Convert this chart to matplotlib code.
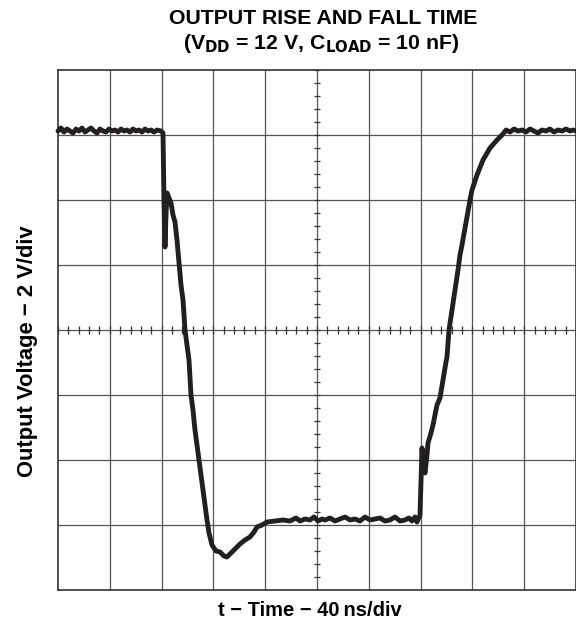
import numpy as np
import matplotlib
matplotlib.use("Agg")
import matplotlib.pyplot as plt

plt.rcParams['font.family'] = ['Liberation Sans', 'DejaVu Sans']

# Trace (pixel readings converted to time in ns, voltage in V)
px_x = [58, 61, 64, 67, 70, 73, 76, 79, 82, 85, 88, 91, 94, 97, 100, 103, 106, 109, 112, 115, 118, 121, 124,
        127, 130, 133, 136, 139, 142, 145, 148, 151, 154, 157, 161,
        163, 164, 165, 166, 167, 169, 171, 173, 175, 177, 179, 181, 183, 185, 187, 189, 191, 193, 195, 197, 199,
        201, 203, 205, 207, 209, 212, 216, 220, 224, 227, 231, 236, 240, 245, 250, 254, 257, 262, 267, 275, 283,
        290, 296, 300, 305, 310, 314, 318, 322, 325, 330, 335, 340, 345, 350, 355, 360, 365, 370, 375, 380, 385,
        390, 395, 400, 405, 409, 412, 415, 417, 420, 421, 422, 423, 425, 427,
        428, 431, 433, 435, 437, 440, 443, 446, 447, 449, 452, 455, 458, 460, 462, 465, 467, 470, 472, 477, 483,
        490, 497, 503, 506, 510, 514, 518, 522, 526, 530, 534, 538, 542, 546, 550, 554, 558, 562, 566, 570, 573, 576]
px_y = [131, 128, 132, 129, 131, 133, 129, 131, 128, 132, 130, 128, 131, 133, 129, 131, 132, 129, 131, 130, 132,
        129, 131, 130, 132, 129, 131, 130, 132, 129, 131, 130, 132, 130, 131,
        133, 200, 247, 215, 193, 198, 203, 215, 222, 240, 262, 285, 300, 330, 345, 360, 395, 410, 430, 445, 460,
        475, 490, 505, 520, 533, 545, 551, 552, 556, 557, 553, 548, 544, 540, 537, 532, 527, 525, 522, 521, 520,
        521, 518, 521, 519, 520, 517, 521, 519, 520, 518, 521, 519, 517, 520, 519, 521, 517, 520, 519, 518, 521,
        520, 517, 521, 520, 518, 521, 517, 522, 515, 480, 448, 460, 473, 455,
        443, 433, 425, 415, 405, 398, 380, 362, 357, 330, 310, 290, 270, 255, 245, 228, 217, 200, 190, 175, 160,
        148, 140, 134, 130, 132, 129, 131, 130, 132, 129, 131, 133, 130, 131, 129, 132, 130, 131, 129, 131, 130, 131]
time_ns = [(x - 58) / 51.8 * 40 for x in px_x]
volts = [(590 - y) / 65 * 2 - 2 for y in px_y]

title1 = "OUTPUT RISE AND FALL TIME"
title2 = "(V$_{\\mathbf{DD}}$ = 12 V, C$_{\\mathbf{LOAD}}$ = 10 nF)"
xlabel = "t \u2212 Time \u2212 40\u2009ns/div"
ylabel = "Output Voltage \u2212 2 V/div"

T0, T1, TDIV = 0, 400, 40
V0, V1, VDIV = -2, 14, 2

fig = plt.figure(figsize=(5.76, 6.29), dpi=100)
ax = fig.add_axes([58 / 576, 39 / 629, 518 / 576, 520 / 629])
ax.set_xlim(T0, T1)
ax.set_ylim(V0, V1)
ax.set_xticks([])
ax.set_yticks([])
grid_c = '#555555'
for s in ax.spines.values():
    s.set_color('#333333')
    s.set_linewidth(1.2)

for t in np.arange(T0 + TDIV, T1, TDIV):
    ax.axvline(t, color=grid_c, lw=0.9, zorder=1)
for v in np.arange(V0 + VDIV, V1, VDIV):
    ax.axhline(v, color=grid_c, lw=0.9, zorder=1)

tc = (T0 + T1) / 2
vc = (V0 + V1) / 2
tk_t = np.arange(T0, T1 + 0.1, TDIV / 5)
tk_v = np.arange(V0, V1 + 0.01, VDIV / 5)
ax.vlines(tk_t, vc - 0.11, vc + 0.11, color='#333333', lw=0.9, zorder=1)
ax.hlines(tk_v, tc - 2.4, tc + 2.4, color='#333333', lw=0.9, zorder=1)

ax.plot(time_ns, volts, color='#231f20', lw=3.5, solid_joinstyle='round', solid_capstyle='round', zorder=3, clip_on=False)

fig.text(323 / 576, 1 - 24 / 629, title1, ha='center', va='baseline', fontsize=15.3, fontweight='bold')
fig.text(321 / 576, 1 - 49 / 629, title2, ha='center', va='baseline', fontsize=15.3, fontweight='bold')
fig.text(310 / 576, 1 - 616 / 629, xlabel, ha='center', va='baseline', fontsize=14.5, fontweight='bold')
fig.text(28 / 576, 1 - 351 / 629, ylabel, ha='center', va='center', rotation=90, fontsize=15.8, fontweight='bold')

fig.savefig("out.png", dpi=100)
